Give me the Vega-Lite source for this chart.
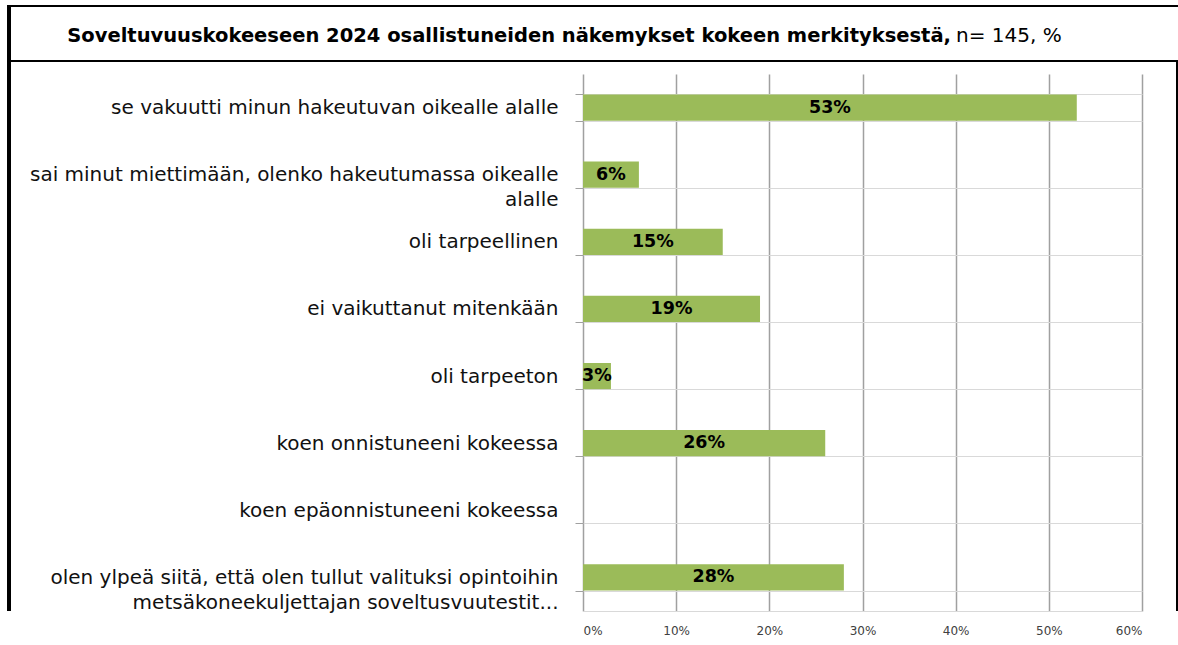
{
  "$schema": "https://vega.github.io/schema/vega-lite/v6.json",
  "autosize": {"type": "none"},
  "padding": {"left": 583, "top": 74, "right": 36, "bottom": 34},
  "width": 559,
  "height": 537,
  "background": "white",
  "config": {"font": "DejaVu Sans", "view": {"stroke": null}},
  "data": {
    "values": [
      {"cat": "se vakuutti minun hakeutuvan oikealle alalle", "v": 53},
      {"cat": "sai minut miettimään, olenko hakeutumassa oikealle\nalalle", "v": 6},
      {"cat": "oli tarpeellinen", "v": 15},
      {"cat": "ei vaikuttanut mitenkään", "v": 19},
      {"cat": "oli tarpeeton", "v": 3},
      {"cat": "koen onnistuneeni kokeessa", "v": 26},
      {"cat": "koen epäonnistuneeni kokeessa", "v": null},
      {"cat": "olen ylpeä siitä, että olen tullut valituksi opintoihin\nmetsäkoneekuljettajan soveltusvuutestit...", "v": 28}
    ]
  },
  "layer": [
    {
      "mark": {"type": "bar", "color": "#9bbb59"},
      "encoding": {
        "y": {
          "field": "cat",
          "type": "nominal",
          "sort": null,
          "scale": {
            "domain": [
              "se vakuutti minun hakeutuvan oikealle alalle",
              "sai minut miettimään, olenko hakeutumassa oikealle\nalalle",
              "oli tarpeellinen",
              "ei vaikuttanut mitenkään",
              "oli tarpeeton",
              "koen onnistuneeni kokeessa",
              "koen epäonnistuneeni kokeessa",
              "olen ylpeä siitä, että olen tullut valituksi opintoihin\nmetsäkoneekuljettajan soveltusvuutestit..."
            ],
            "paddingInner": 0.61,
            "paddingOuter": 0.305
          },
          "axis": {
            "title": null,
            "tickBand": "extent",
            "grid": true,
            "gridColor": "#d9d9d9",
            "gridWidth": 1,
            "ticks": true,
            "tickSize": 8,
            "tickColor": "#a0a0a0",
            "domain": false,
            "labelFont": "DejaVu Sans",
            "labelFontSize": 20,
            "labelColor": "#111111",
            "labelLimit": 0,
            "labelLineHeight": 25,
            "labelPadding": 17,
            "labelExpr": "split(datum.label, '\\n')"
          }
        },
        "x": {
          "field": "v",
          "type": "quantitative",
          "scale": {"domain": [0, 60], "nice": false, "zero": true},
          "axis": {
            "title": null,
            "values": [0, 10, 20, 30, 40, 50, 60],
            "labelExpr": "datum.value + '%'",
            "grid": true,
            "gridColor": "#a0a0a0",
            "gridWidth": 1.5,
            "domain": true,
            "domainColor": "#d9d9d9",
            "domainWidth": 1,
            "ticks": false,
            "tickSize": 0,
            "labelFont": "DejaVu Sans",
            "labelFontSize": 12,
            "labelColor": "#404040",
            "labelPadding": 14
          }
        }
      }
    },
    {
      "transform": [
        {"filter": "datum.v != null"},
        {"calculate": "datum.v / 2", "as": "mid"},
        {"calculate": "datum.v + '%'", "as": "lbl"}
      ],
      "mark": {"type": "text", "align": "center", "baseline": "middle", "font": "DejaVu Sans", "fontWeight": "bold", "fontSize": 17.5, "color": "black"},
      "encoding": {
        "y": {"field": "cat", "type": "nominal", "sort": null},
        "x": {"field": "mid", "type": "quantitative"},
        "text": {"field": "lbl"}
      }
    },
    {
      "data": {"values": [{"t": "Soveltuvuuskokeeseen 2024 osallistuneiden näkemykset kokeen merkityksestä,"}]},
      "mark": {"type": "text", "align": "right", "baseline": "middle", "font": "DejaVu Sans", "fontWeight": "bold", "fontSize": 19.5, "color": "black", "yOffset": -307, "clip": false},
      "encoding": {
        "x": {"datum": 39.5, "type": "quantitative"},
        "text": {"field": "t"}
      }
    },
    {
      "data": {"values": [{"t": "n= 145, %"}]},
      "mark": {"type": "text", "align": "left", "baseline": "middle", "font": "DejaVu Sans", "fontWeight": "normal", "fontSize": 20, "color": "black", "yOffset": -307, "dx": 5, "clip": false},
      "encoding": {
        "x": {"datum": 39.5, "type": "quantitative"},
        "text": {"field": "t"}
      }
    },
    {
      "mark": {"type": "rule", "color": "black", "strokeWidth": 1.5, "clip": false, "yOffset": -336.5},
      "encoding": {
        "x": {"datum": -61.8, "type": "quantitative"},
        "x2": {"datum": 64.1}
      }
    },
    {
      "mark": {"type": "rule", "color": "black", "strokeWidth": 2, "clip": false, "yOffset": -281.5},
      "encoding": {
        "x": {"datum": -61.8, "type": "quantitative"},
        "x2": {"datum": 64.1}
      }
    },
    {
      "mark": {"type": "rule", "color": "black", "strokeWidth": 3, "clip": false, "yOffset": -68},
      "encoding": {"x": {"datum": -61.6, "type": "quantitative"}}
    },
    {
      "mark": {"type": "rule", "color": "black", "strokeWidth": 1.5, "clip": false, "yOffset": -13},
      "encoding": {"x": {"datum": 63.76, "type": "quantitative"}}
    }
  ]
}
